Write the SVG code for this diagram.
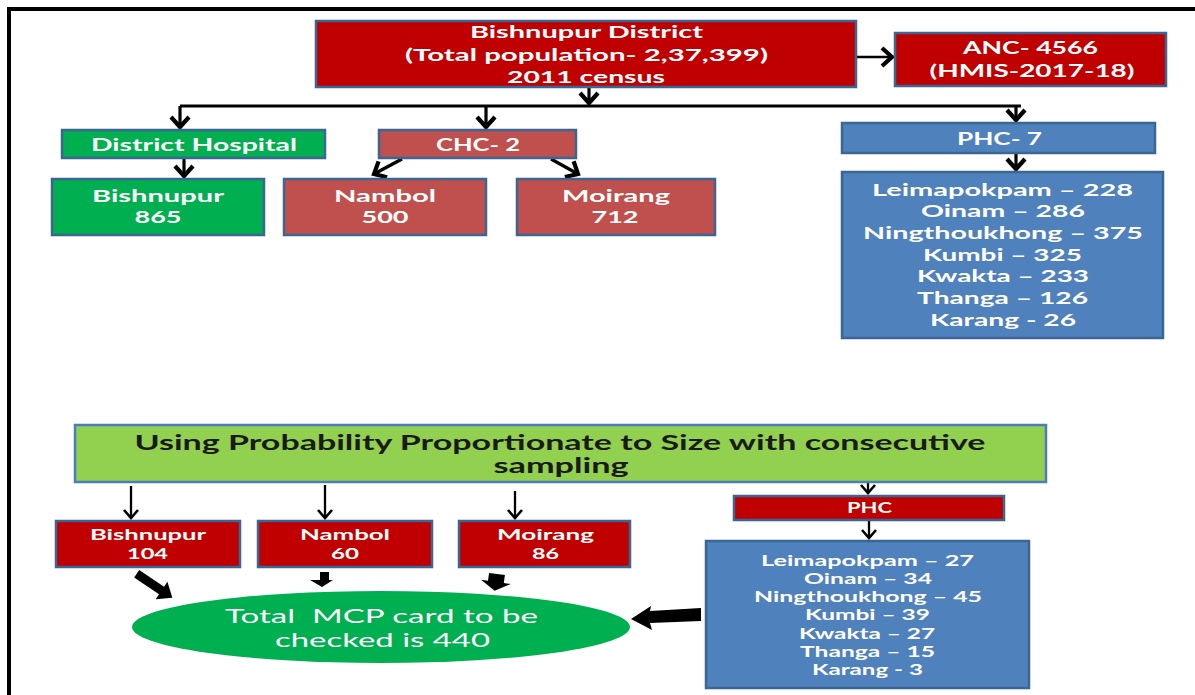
<svg xmlns="http://www.w3.org/2000/svg" width="1195" height="695" viewBox="0 0 1195 695">
<style>
text{font-family:Lato,"Open Sans","Liberation Sans",sans-serif;font-weight:700;fill:#fff;text-anchor:middle}
.box{stroke:#3B6593;stroke-width:2.5}
.dred{fill:#C00000}
.cred{fill:#C0504D}
.grn{fill:#00B050}
.blu{fill:#4F81BD}
.lgrn{fill:#92D050}
.t17{font-size:17.5px}
.t16{font-size:16.5px}
.t15{font-size:15px}
.t14{font-size:14.5px}
.t21{font-size:21px}
.dark{fill:#1a1a1a}
.norm{font-weight:400;font-size:20px}
.thick{stroke:#000;stroke-width:3.2;fill:none;marker-end:url(#chev)}
.thin{stroke:#000;stroke-width:2.3;fill:none;marker-end:url(#chev2)}
</style>
<defs>
<marker id="chev" markerUnits="userSpaceOnUse" markerWidth="30" markerHeight="30" viewBox="-15 -15 30 30" refX="0" refY="0" orient="auto" overflow="visible"><path d="M-10,-9 L0,0 L-10,9" fill="none" stroke="#000" stroke-width="4.2"/></marker>
<marker id="chev2" markerUnits="userSpaceOnUse" markerWidth="24" markerHeight="24" viewBox="-12 -12 24 24" refX="0" refY="0" orient="auto" overflow="visible"><path d="M-8,-7 L0,0 L-8,7" fill="none" stroke="#000" stroke-width="2.6"/></marker>
</defs>
<rect width="1195" height="695" fill="#fff"/>
<g id="frame"><path d="M9,695 L9,9 L1195,9" fill="none" stroke="#000" stroke-width="4"/></g>

<g id="connectors">
<path class="thick" d="M589,88 L589,103"/>
<path d="M180,106 L1021,106" stroke="#000" stroke-width="3" fill="none"/>
<path class="thick" d="M180,106 L180,127"/>
<path class="thick" d="M486,106 L486,127"/>
<path class="thick" d="M1016,106 L1016,120"/>
<path class="thick" d="M184,159 L184,176"/>
<path class="thick" d="M402,159 L374,174"/>
<path class="thick" d="M551,159 L578,174"/>
<path class="thick" d="M1016,154 L1016,169"/>
<path class="thick" style="stroke-width:2.6" d="M857,57 L892,57"/>
<path class="thin" d="M131,486 L131,518"/>
<path class="thin" d="M325,485 L325,518"/>
<path class="thin" d="M515,491 L515,518"/>
<path class="thin" d="M868,477 L868,493"/>
<path class="thin" d="M869,521 L869,538"/>
<g transform="translate(140,576) rotate(34)"><polygon points="-4,-4.5 26,-4.5 26,-10.5 39,0 26,10.5 26,4.5 -4,4.5" fill="#000"/></g>
<polygon points="320,572 329,572 329,580 333,580 322,587 310,580 320,580" fill="#000"/>
<g transform="translate(497,574) rotate(98)"><polygon points="0,-8 8,-8 8,-15 17,0 8,15 8,8 0,8" fill="#000"/></g>
<polygon points="701,608 650,611 651,606 631,619 652,630 650,623 701,621" fill="#000"/>
</g>

<g id="district">
<rect class="box dred" x="316" y="21" width="540" height="66"/>
<text class="t17" x="586.5" y="38" textLength="233" lengthAdjust="spacingAndGlyphs">Bishnupur District</text>
<text class="t17" x="586.5" y="61" textLength="363" lengthAdjust="spacingAndGlyphs">(Total population- 2,37,399)</text>
<text class="t17" x="586" y="83" textLength="158" lengthAdjust="spacingAndGlyphs">2011 census</text>
</g>
<g id="anc">
<rect class="box dred" x="895" y="33" width="271" height="53"/>
<text class="t16" x="1030.5" y="54" textLength="135" lengthAdjust="spacingAndGlyphs">ANC- 4566</text>
<text class="t16" x="1032" y="77" textLength="205" lengthAdjust="spacingAndGlyphs">(HMIS-2017-18)</text>
</g>
<g id="district-hospital">
<rect class="box grn" x="62" y="130" width="263" height="28"/>
<text class="t16" x="194" y="151" textLength="206" lengthAdjust="spacingAndGlyphs">District Hospital</text>
</g>
<g id="chc">
<rect class="box cred" x="379" y="130" width="197" height="28"/>
<text class="t16" x="478" y="151" textLength="84" lengthAdjust="spacingAndGlyphs">CHC- 2</text>
</g>
<g id="phc7">
<rect class="box blu" x="842" y="123" width="313" height="30"/>
<text class="t16" x="999.5" y="145" textLength="85" lengthAdjust="spacingAndGlyphs">PHC- 7</text>
</g>
<g id="bishnupur-865">
<rect class="box grn" x="52" y="179" width="212" height="56"/>
<text class="t17" x="158" y="202" textLength="132" lengthAdjust="spacingAndGlyphs">Bishnupur</text>
<text class="t17" x="158" y="223" textLength="47" lengthAdjust="spacingAndGlyphs">865</text>
</g>
<g id="nambol-500">
<rect class="box cred" x="284" y="179" width="202" height="56"/>
<text class="t17" x="385" y="202" textLength="102" lengthAdjust="spacingAndGlyphs">Nambol</text>
<text class="t17" x="385" y="223" textLength="47" lengthAdjust="spacingAndGlyphs">500</text>
</g>
<g id="moirang-712">
<rect class="box cred" x="517" y="179" width="198" height="56"/>
<text class="t17" x="616" y="202" textLength="108" lengthAdjust="spacingAndGlyphs">Moirang</text>
<text class="t17" x="615" y="223" textLength="47" lengthAdjust="spacingAndGlyphs">712</text>
</g>
<g id="phc-list">
<rect class="box blu" x="842" y="172" width="321" height="166"/>
<text class="t17" x="1002.5" y="196" textLength="261" lengthAdjust="spacingAndGlyphs">Leimapokpam – 228</text>
<text class="t17" x="1003" y="217" textLength="164" lengthAdjust="spacingAndGlyphs">Oinam – 286</text>
<text class="t17" x="1003" y="239" textLength="280" lengthAdjust="spacingAndGlyphs">Ningthoukhong – 375</text>
<text class="t17" x="1002.5" y="261" textLength="159" lengthAdjust="spacingAndGlyphs">Kumbi – 325</text>
<text class="t17" x="1003" y="282" textLength="172" lengthAdjust="spacingAndGlyphs">Kwakta – 233</text>
<text class="t17" x="1002.5" y="304" textLength="171" lengthAdjust="spacingAndGlyphs">Thanga – 126</text>
<text class="t17" x="1003" y="326" textLength="146" lengthAdjust="spacingAndGlyphs">Karang - 26</text>
</g>

<g id="sampling">
<rect class="box lgrn" x="75" y="425" width="971" height="57" style="stroke:#4A7EBB"/>
<text class="t21 dark" x="560" y="450" textLength="851" lengthAdjust="spacingAndGlyphs">Using Probability Proportionate to Size with consecutive</text>
<text class="t21 dark" x="561" y="473" textLength="135" lengthAdjust="spacingAndGlyphs">sampling</text>
</g>
<g id="bishnupur-104">
<rect class="box dred" x="56" y="521" width="184" height="46"/>
<text class="t15" x="148" y="540" textLength="116" lengthAdjust="spacingAndGlyphs">Bishnupur</text>
<text class="t15" x="147.5" y="559" textLength="41" lengthAdjust="spacingAndGlyphs">104</text>
</g>
<g id="nambol-60">
<rect class="box dred" x="258" y="521" width="174" height="46"/>
<text class="t15" x="345" y="540" textLength="90" lengthAdjust="spacingAndGlyphs">Nambol</text>
<text class="t15" x="345" y="559" textLength="28" lengthAdjust="spacingAndGlyphs">60</text>
</g>
<g id="moirang-86">
<rect class="box dred" x="459" y="521" width="171" height="46"/>
<text class="t15" x="545.5" y="540" textLength="97" lengthAdjust="spacingAndGlyphs">Moirang</text>
<text class="t15" x="545.5" y="559" textLength="27" lengthAdjust="spacingAndGlyphs">86</text>
</g>
<g id="phc">
<rect class="box dred" x="734" y="496" width="270" height="24"/>
<text class="t14" x="869.5" y="513" textLength="45" lengthAdjust="spacingAndGlyphs">PHC</text>
</g>
<g id="phc-sample-list">
<rect class="box blu" x="706" y="541" width="323" height="147"/>
<text class="t14" x="867.5" y="566" textLength="213" lengthAdjust="spacingAndGlyphs">Leimapokpam – 27</text>
<text class="t14" x="868" y="584" textLength="128" lengthAdjust="spacingAndGlyphs">Oinam – 34</text>
<text class="t14" x="868" y="602" textLength="228" lengthAdjust="spacingAndGlyphs">Ningthoukhong – 45</text>
<text class="t14" x="867.5" y="620" textLength="125" lengthAdjust="spacingAndGlyphs">Kumbi – 39</text>
<text class="t14" x="867" y="639" textLength="136" lengthAdjust="spacingAndGlyphs">Kwakta – 27</text>
<text class="t14" x="867.5" y="657" textLength="135" lengthAdjust="spacingAndGlyphs">Thanga – 15</text>
<text class="t14" x="867.5" y="675" textLength="111" lengthAdjust="spacingAndGlyphs">Karang - 3</text>
</g>
<g id="total">
<ellipse cx="381" cy="627" rx="249" ry="36" fill="#00B050"/>
<text class="norm" x="381.5" y="623" textLength="313" lengthAdjust="spacingAndGlyphs" xml:space="preserve">Total  MCP card to be</text>
<text class="norm" x="382.5" y="647" textLength="215" lengthAdjust="spacingAndGlyphs">checked is 440</text>
</g>
</svg>
